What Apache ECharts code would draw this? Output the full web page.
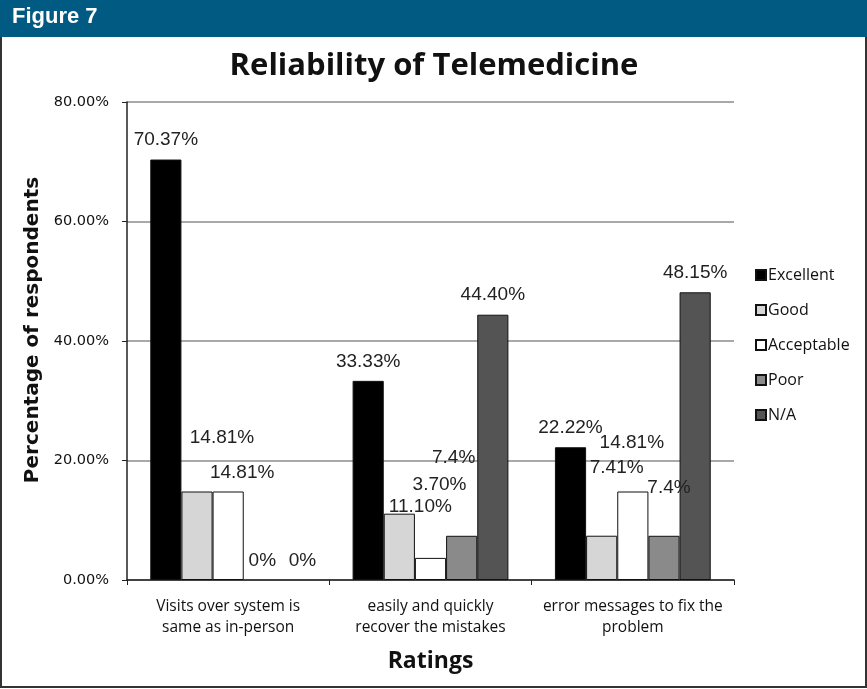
<!DOCTYPE html>
<html>
<head>
<meta charset="utf-8">
<script src="https://cdn.jsdelivr.net/npm/echarts@6/dist/echarts.min.js"></script>
<style>
  html, body { margin: 0; padding: 0; background: #fff; }
  #chart { width: 867px; height: 689px; }
</style>
</head>
<body>
<div id="chart"></div>
<script>
// categories on the x axis
const categories = [
    'Visits over system is\nsame as in-person',
    'easily and quickly\nrecover the mistakes',
    'error messages to fix the\nproblem'
]
const seriesNames = ['Excellent', 'Good', 'Acceptable', 'Poor', 'N/A']

// values (percent)
const excellent = [70.37, 33.33, 22.22]
const good = [14.81, 11.10, 7.41]
const acceptable = [14.81, 3.70, 14.81]
const poor = [0, 7.4, 7.4]
const na = [0, 44.40, 48.15]

// label text as printed on the figure
const excellentLabels = ['70.37%', '33.33%', '22.22%']
const goodLabels = ['14.81%', '11.10%', '7.41%']
const acceptableLabels = ['14.81%', '3.70%', '14.81%']
const poorLabels = ['0%', '7.4%', '7.4%']
const naLabels = ['0%', '44.40%', '48.15%']

const yTicks = [0, 20, 40, 60, 80]

// styling
const fills = ['#000000', '#d6d6d6', '#ffffff', '#8a8a8a', '#545454']
const labelShift = [
    [[0, 0], [0, 0], [0, 0]],
    [[25, -34], [21, 13], [15, -48]],
    [[14, 1], [9, -54], [-1, -29]],
    [[3, 0], [-8, -59], [5, -29]],
    [[12, 0], [0, 0], [0, 0]]
]

const values = [excellent, good, acceptable, poor, na]
const labels = [excellentLabels, goodLabels, acceptableLabels, poorLabels, naLabels]

const chart = echarts.init(document.getElementById('chart'))

const series = seriesNames.map((name, i) => ({
    name,
    type: 'bar',
    barGap: '0%',
    barCategoryGap: '23%',
    itemStyle: { color: fills[i], borderColor: '#111', borderWidth: 1 },
    label: {
        show: true,
        position: 'top',
        distance: 10,
        color: '#222',
        fontFamily: 'Liberation Sans, Arial, sans-serif',
        fontSize: 19,
        formatter: p => labels[i][p.dataIndex]
    },
    data: values[i].map((v, j) => ({
        value: v,
        itemStyle: v === 0 ? { borderWidth: 0 } : undefined,
        label: { offset: labelShift[i][j] }
    }))
}))

const option = {
    backgroundColor: '#fff',
    animation: false,
    graphic: [
        {
            type: 'rect',
            shape: { x: 1, y: 1, width: 865, height: 686 },
            style: { fill: 'none', stroke: '#333', lineWidth: 2 },
            z: 0
        },
        {
            type: 'rect',
            shape: { x: 0, y: 0, width: 867, height: 37 },
            style: { fill: '#005a82' },
            z: 1
        },
        {
            type: 'text',
            left: 12,
            top: 6,
            style: {
                text: 'Figure 7',
                fill: '#fff',
                font: 'bold 22px "Liberation Sans Narrow", "Liberation Sans", Arial, sans-serif'
            },
            z: 2
        }
    ],
    title: {
        text: 'Reliability of Telemedicine',
        left: 429,
        textAlign: 'center',
        top: 46,
        textStyle: {
            fontFamily: 'Open Sans',
            fontWeight: 'bold',
            fontSize: 31,
            color: '#111'
        }
    },
    legend: {
        orient: 'vertical',
        left: 750,
        top: 262,
        itemWidth: 10,
        itemHeight: 10,
        itemGap: 19,
        icon: 'rect',
        textStyle: {
            fontFamily: 'Open Sans',
            fontSize: 16,
            lineHeight: 16,
            color: '#111',
            padding: [0, 0, 0, -3]
        },
        data: seriesNames
    },
    grid: {
        left: 127,
        right: 133,
        top: 102,
        bottom: 109
    },
    xAxis: {
        type: 'category',
        data: categories,
        name: 'Ratings',
        nameLocation: 'middle',
        nameGap: 70,
        nameTextStyle: {
            fontFamily: 'Open Sans',
            fontWeight: 'bold',
            fontSize: 23,
            color: '#111'
        },
        axisLine: { lineStyle: { color: '#222', width: 1.5 } },
        axisTick: { show: true, length: 5, inside: false, lineStyle: { color: '#222' } },
        axisLabel: {
            fontFamily: 'Open Sans',
            fontSize: 15.5,
            lineHeight: 21,
            color: '#111',
            margin: 16,
            interval: 0
        }
    },
    yAxis: {
        type: 'value',
        min: yTicks[0],
        max: yTicks[yTicks.length - 1],
        interval: 20,
        name: 'Percentage of respondents',
        nameLocation: 'middle',
        nameGap: 78,
        nameRotate: 90,
        nameTextStyle: {
            fontFamily: 'DejaVu Sans',
            fontWeight: 'bold',
            fontSize: 20,
            color: '#111',
            padding: [0, 0, 0, 22]
        },
        axisLine: { show: true, lineStyle: { color: '#222', width: 1.5 } },
        axisTick: { show: true, length: 5, lineStyle: { color: '#222' } },
        splitLine: { lineStyle: { color: '#8c8c8c', width: 1.5 } },
        axisLabel: {
            fontFamily: 'DejaVu Sans',
            fontSize: 14.5,
            color: '#111',
            margin: 18,
            formatter: v => v.toFixed(2) + '%'
        }
    },
    series
}

chart.setOption(option)
</script>
</body>
</html>
